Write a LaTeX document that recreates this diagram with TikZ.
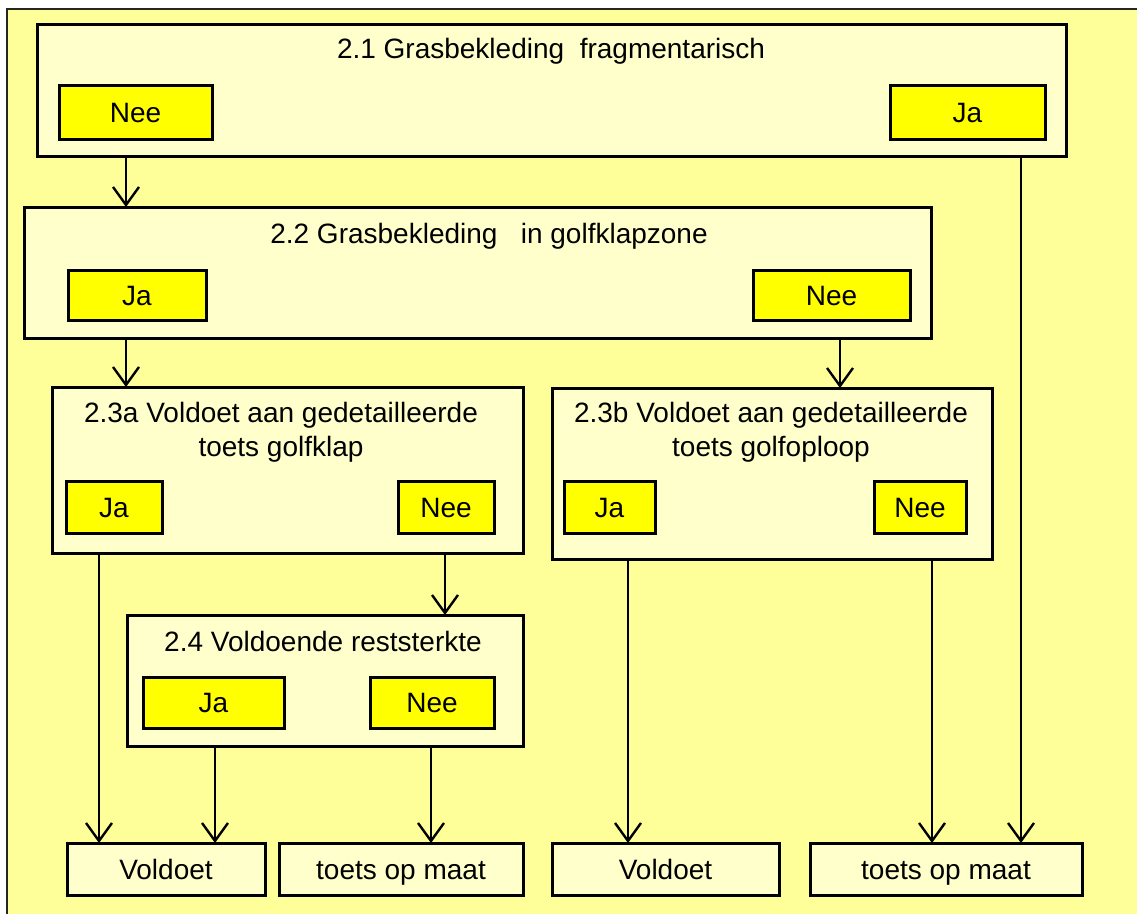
\documentclass[tikz,border=0pt]{standalone}
\usepackage{fontspec}
\setmainfont{Liberation Sans}
\usetikzlibrary{arrows.meta}
\definecolor{framefill}{HTML}{FFFF99}
\definecolor{panelfill}{HTML}{FFFFCC}
\definecolor{choicefill}{HTML}{FFFF00}
\tikzset{
  panel/.style={draw=black, line width=3pt, fill=panelfill, inner sep=0pt, outer sep=0pt},
  choice/.style={draw=black, line width=3pt, fill=choicefill, inner sep=0pt, outer sep=0pt,
    font=\fontsize{28}{34}\selectfont, text height=24pt, text depth=4pt},
  result/.style={panel, font=\fontsize{28}{34}\selectfont, text height=24pt, text depth=4pt},
  title/.style={inner sep=0pt, align=center, font=\fontsize{28}{34}\selectfont},
  arr/.style={line width=2.4pt, -{Straight Barb[length=18pt,width=26pt,line width=2.4pt]}}
}
% box from corner (x1,y1) to (x2,y2) in pixel units, y downward
\newcommand\pbox[6]{%
  \pgfmathsetmacro\bw{#4-#2}\pgfmathsetmacro\bh{#5-#3}%
  \node[#1, minimum width=\bw pt, minimum height=\bh pt] (#6) at ({(#2+#4)/2},{(#3+#5)/2}) {};}
\newcommand\tbox[7]{%
  \pgfmathsetmacro\bw{#4-#2}\pgfmathsetmacro\bh{#5-#3}%
  \node[#1, minimum width=\bw pt, minimum height=\bh pt] (#6) at ({(#2+#4)/2},{(#3+#5)/2}) {#7};}
\begin{document}
\begin{tikzpicture}[x=1pt,y=-1pt]
\useasboundingbox (0,0) rectangle (1137,913);
\begin{scope}
\clip (0,0) rectangle (1137,913);
\fill[white] (0,0) rectangle (1137,913);
\draw[line width=2pt, draw=black!85, fill=framefill] (7,9) rectangle (1160,940);
\end{scope}

% 2.1
\pbox{panel}{37}{24}{1066}{156}{b21}
\node[title] (t21) at (551,51) {2.1 Grasbekleding\ \ fragmentarisch};
\tbox{choice}{59}{85}{212}{139}{n21}{Nee}
\tbox{choice}{890}{85}{1045}{139}{j21}{Ja}

% 2.2
\pbox{panel}{24}{207}{931}{338}{b22}
\node[title] (t22) at (489,236) {2.2 Grasbekleding\ \ \ in golfklapzone};
\tbox{choice}{68}{270}{206}{320}{j22}{Ja}
\tbox{choice}{753}{270}{910}{320}{n22}{Nee}

% 2.3a
\pbox{panel}{52}{387}{523}{553}{b23a}
\node[title] (t23a) at (281,432) {2.3a Voldoet aan gedetailleerde\\toets golfklap};
\tbox{choice}{66}{481}{162}{533}{j23a}{Ja}
\tbox{choice}{398}{481}{494}{533}{n23a}{Nee}

% 2.3b
\pbox{panel}{552}{388}{992}{559}{b23b}
\node[title] (t23b) at (771,432) {2.3b Voldoet aan gedetailleerde\\toets golfoploop};
\tbox{choice}{564}{481}{655}{533}{j23b}{Ja}
\tbox{choice}{874}{481}{966}{533}{n23b}{Nee}

% 2.4
\pbox{panel}{127}{615}{523}{746}{b24}
\node[title] (t24) at (323,641) {2.4 Voldoende reststerkte};
\tbox{choice}{143}{677}{284}{728}{j24}{Ja}
\tbox{choice}{370}{677}{494}{728}{n24}{Nee}

% outcomes
\tbox{result}{67}{843}{265}{895}{v1}{Voldoet}
\tbox{result}{279}{843}{523}{895}{m1}{toets op maat}
\tbox{result}{552}{843}{779}{895}{v2}{Voldoet}
\tbox{result}{810}{843}{1082}{895}{m2}{toets op maat}

% connectors
\draw[arr] (b21.south -| 126,0) -- (b22.north -| 126,0);
\draw[arr] (b21.south -| 1021,0) -- (m2.north -| 1021,0);
\draw[arr] (b22.south -| 126,0) -- (b23a.north -| 126,0);
\draw[arr] (b22.south -| 840,0) -- (b23b.north -| 840,0);
\draw[arr] (b23a.south -| 99,0) -- (v1.north -| 99,0);
\draw[arr] (b23a.south -| 445,0) -- (b24.north -| 445,0);
\draw[arr] (b24.south -| 215,0) -- (v1.north -| 215,0);
\draw[arr] (b24.south -| 431,0) -- (m1.north -| 431,0);
\draw[arr] (b23b.south -| 628,0) -- (v2.north -| 628,0);
\draw[arr] (b23b.south -| 932,0) -- (m2.north -| 932,0);
\end{tikzpicture}
\end{document}
